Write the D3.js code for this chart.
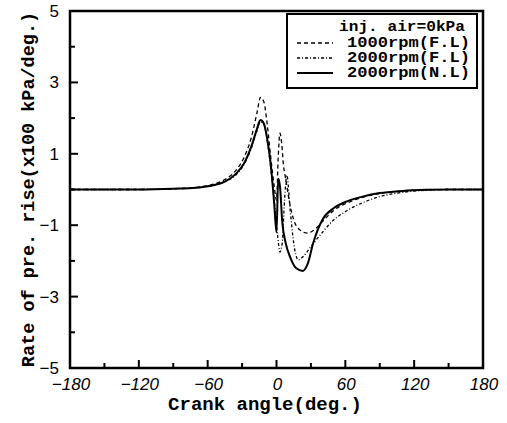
<!DOCTYPE html>
<html>
<head>
<meta charset="utf-8">
<script src="https://cdn.jsdelivr.net/npm/d3@7"></script>
<style>
body { margin: 0; background: #fff; }
</style>
</head>
<body>
<script>
// crank angle ticks and value ticks
let angleTicks = [-180, -120, -60, 0, 60, 120, 180];
let angleMinor = [-150, -90, -30, 30, 90, 150];
let valueTicks = [5, 3, 1, -1, -3, -5];
let valueMinor = [4, 2, 0, -2, -4];

// 1000rpm(F.L) dashed
let anglesA = [-180, -120, -90, -70, -55, -45, -35, -28, -22, -17, -14, -11, -8, -5, -2, 0, 1.5, 3, 4.5, 6, 8, 11, 15, 20, 27, 32, 40, 50, 60, 75, 90, 110, 130, 150, 180];
let valuesA = [0, 0, 0.02, 0.06, 0.15, 0.28, 0.55, 0.92, 1.45, 2.15, 2.58, 2.45, 1.8, 0.9, 0.1, -0.3, 0.9, 1.58, 1.3, 0.7, 0.3, -0.3, -0.85, -1.12, -1.22, -1.15, -0.9, -0.58, -0.4, -0.22, -0.11, -0.04, -0.01, 0, 0];
// 2000rpm(F.L) dash-dot
let anglesB = [-180, -120, -90, -70, -55, -45, -35, -28, -22, -17, -14, -11, -8, -5, -2, 1, 3, 5, 7, 9, 12, 15, 19, 24, 30, 40, 50, 60, 75, 90, 110, 130, 150, 180];
let valuesB = [0, 0, 0.02, 0.05, 0.12, 0.22, 0.42, 0.72, 1.15, 1.65, 1.9, 1.82, 1.35, 0.6, -0.3, -1.3, -1.75, -1.5, -0.3, 0.4, -0.6, -1.5, -1.97, -1.85, -1.6, -1.2, -0.85, -0.62, -0.37, -0.2, -0.08, -0.02, 0, 0];
// 2000rpm(N.L) solid
let anglesC = [-180, -120, -90, -70, -55, -45, -35, -28, -22, -17, -14, -11, -8, -5, -2, 0, 1.5, 3, 5, 8, 12, 17, 23, 27, 32, 40, 50, 60, 75, 90, 110, 130, 150, 180];
let valuesC = [0, 0, 0.02, 0.05, 0.12, 0.22, 0.45, 0.75, 1.2, 1.7, 1.95, 1.85, 1.4, 0.7, -0.4, -1.2, 0.3, 0.1, -0.9, -1.5, -1.9, -2.2, -2.28, -2.1, -1.5, -0.85, -0.52, -0.35, -0.2, -0.1, -0.04, -0.01, 0, 0];

let seriesNames = ["1000rpm(F.L)", "2000rpm(F.L)", "2000rpm(N.L)"];
let dashes = ["4,3", "3,2,1,2", null];
let widths = [1.3, 1.3, 2];

let svg = d3.select("body").append("svg").attr("width", 507).attr("height", 423);
let x = d3.scaleLinear().domain([-180, 180]).range([70, 483]);
let y = d3.scaleLinear().domain([-5, 5]).range([368, 11]);

let line = d3.line().x(d => x(d[0])).y(d => y(d[1])).curve(d3.curveMonotoneX);
let allSeries = [
    d3.zip(anglesA, valuesA),
    d3.zip(anglesB, valuesB),
    d3.zip(anglesC, valuesC)
];
svg.selectAll("path.curve").data(allSeries).enter().append("path")
    .attr("class", "curve")
    .attr("d", line)
    .attr("fill", "none")
    .attr("stroke", "#000")
    .attr("stroke-width", (d, i) => widths[i])
    .attr("stroke-dasharray", (d, i) => dashes[i]);

// ticks (pointing inward)
let xAxis = svg.append("g").attr("transform", "translate(0,368)");
xAxis.selectAll("line.major").data(angleTicks).enter().append("line")
    .attr("x1", d => x(d)).attr("x2", d => x(d)).attr("y1", 0).attr("y2", -8)
    .attr("stroke", "#000").attr("stroke-width", 2);
xAxis.selectAll("line.minor").data(angleMinor).enter().append("line")
    .attr("x1", d => x(d)).attr("x2", d => x(d)).attr("y1", 0).attr("y2", -5)
    .attr("stroke", "#000").attr("stroke-width", 2);
xAxis.selectAll("text").data(angleTicks).enter().append("text")
    .attr("x", d => x(d) + 1).attr("y", 22)
    .attr("text-anchor", "middle")
    .attr("font-family", "Liberation Sans").attr("font-style", "italic").attr("font-size", 17)
    .text(d => d3.format("")(d).replace("-", "\u2212"));

let yAxis = svg.append("g").attr("transform", "translate(70,0)");
yAxis.selectAll("line.major").data(valueTicks).enter().append("line")
    .attr("x1", 0).attr("x2", 8).attr("y1", d => y(d)).attr("y2", d => y(d))
    .attr("stroke", "#000").attr("stroke-width", 2);
yAxis.selectAll("line.minor").data(valueMinor).enter().append("line")
    .attr("x1", 0).attr("x2", 5).attr("y1", d => y(d)).attr("y2", d => y(d))
    .attr("stroke", "#000").attr("stroke-width", 2);
yAxis.selectAll("text").data(valueTicks).enter().append("text")
    .attr("x", -11).attr("y", d => y(d) + 6)
    .attr("text-anchor", "end")
    .attr("font-family", "Liberation Sans").attr("font-size", 17)
    .text(d => d3.format("")(d).replace("-", "\u2212"));

// frame
svg.append("rect").attr("x", 70).attr("y", 11).attr("width", 413).attr("height", 357)
    .attr("fill", "none").attr("stroke", "#000").attr("stroke-width", 2.5);

// axis titles
svg.append("text").attr("x", 265).attr("y", 410).attr("text-anchor", "middle")
    .attr("font-family", "Liberation Mono").attr("font-weight", "bold").attr("font-size", 19)
    .text("Crank angle(deg.)");
svg.append("text").attr("transform", "translate(34," + y(0) + ") rotate(-90)")
    .attr("text-anchor", "middle")
    .attr("font-family", "Liberation Mono").attr("font-weight", "bold").attr("font-size", 18.5)
    .text("Rate of pre. rise(x100 kPa/deg.)");

// legend
let legend = svg.append("g");
legend.append("rect").attr("x", 287).attr("y", 14).attr("width", 190).attr("height", 74)
    .attr("fill", "#fff").attr("stroke", "#000").attr("stroke-width", 2);
legend.append("text").attr("x", 339).attr("y", 31)
    .attr("font-family", "Liberation Mono").attr("font-weight", "bold").attr("font-size", 14)
    .attr("textLength", 126).attr("lengthAdjust", "spacingAndGlyphs")
    .text("inj. air=0kPa");
let rows = legend.selectAll("g.row").data(seriesNames).enter().append("g")
    .attr("transform", (d, i) => "translate(0," + (47 + i * 15) + ")");
rows.append("line").attr("x1", 297).attr("x2", 333).attr("y1", -4).attr("y2", -4)
    .attr("stroke", "#000")
    .attr("stroke-width", (d, i) => widths[i])
    .attr("stroke-dasharray", (d, i) => dashes[i]);
rows.append("text").attr("x", 347).attr("y", 0)
    .attr("font-family", "Liberation Mono").attr("font-weight", "bold").attr("font-size", 14)
    .attr("textLength", 123).attr("lengthAdjust", "spacingAndGlyphs")
    .text(d => d);
</script>
</body>
</html>
